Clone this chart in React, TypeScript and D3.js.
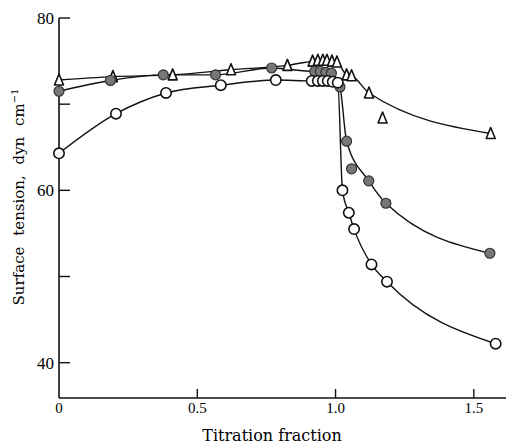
import React, { useEffect, useRef } from 'react';
import * as d3 from 'd3';

// open circles
const openFrac = [0, 0.206, 0.387, 0.585, 0.784, 0.914, 0.936, 0.954, 0.972, 0.99, 1.008, 1.025, 1.048, 1.067, 1.13, 1.186, 1.579];
const openTension = [64.3, 68.9, 71.3, 72.2, 72.8, 72.7, 72.7, 72.7, 72.7, 72.6, 72.5, 60.0, 57.4, 55.5, 51.4, 49.4, 42.2];

// filled (shaded) circles
const filledFrac = [0, 0.186, 0.377, 0.566, 0.769, 0.925, 0.945, 0.965, 0.985, 1.016, 1.04, 1.058, 1.12, 1.182, 1.558];
const filledTension = [71.5, 72.75, 73.4, 73.4, 74.2, 73.8, 73.8, 73.7, 73.6, 72.0, 65.7, 62.5, 61.1, 58.5, 52.7];
const filledOffCurve = [11];

// triangles
const triFrac = [0, 0.195, 0.411, 0.622, 0.826, 0.917, 0.936, 0.954, 0.969, 0.987, 1.005, 1.04, 1.058, 1.121, 1.17, 1.561];
const triTension = [72.8, 73.2, 73.4, 74.0, 74.5, 75.0, 75.1, 75.1, 75.1, 75.0, 74.9, 73.4, 73.3, 71.3, 68.4, 66.6];
const triOffCurve = [14];

const yTicks = [80, 70, 60, 50, 40];
const yTickLabels = ['80', '', '60', '', '40'];
const xTicks = [0.5, 1.0, 1.5];
const xTickLabels = ['0.5', '1.0', '1.5'];

const App = () => {
    const chartRef = useRef(null);

    useEffect(() => {
        const width = 506;
        const height = 448;
        const numFont = '"Liberation Serif", serif';
        const textFont = '"DejaVu Serif", serif';

        const xScale = d3.scaleLinear().domain([0, 1.62]).range([59, 507]);
        const yScale = d3.scaleLinear().domain([35.9, 80]).range([398, 18]);

        const svg = d3.select(chartRef.current)
            .append('svg')
            .attr('width', width)
            .attr('height', height)
            .style('position', 'absolute')
            .style('left', 0)
            .style('top', 0)
            .style('background', '#fff');

        // axes
        svg.append('line')
            .attr('x1', xScale(0)).attr('x2', xScale(0))
            .attr('y1', yScale(80)).attr('y2', yScale(35.9))
            .attr('stroke', '#111').attr('stroke-width', 1.6);
        svg.append('line')
            .attr('x1', xScale(0)).attr('x2', xScale(1.62))
            .attr('y1', yScale(35.9)).attr('y2', yScale(35.9))
            .attr('stroke', '#111').attr('stroke-width', 1.6);

        yTicks.forEach((t, i) => {
            svg.append('line')
                .attr('x1', xScale(0)).attr('x2', xScale(0) + 11)
                .attr('y1', yScale(t)).attr('y2', yScale(t))
                .attr('stroke', '#111').attr('stroke-width', 1.4);
            if (yTickLabels[i]) {
                svg.append('text')
                    .attr('x', xScale(0) - 5)
                    .attr('y', yScale(t) + 6)
                    .attr('text-anchor', 'end')
                    .attr('font-family', numFont)
                    .attr('font-size', 17)
                    .text(yTickLabels[i]);
            }
        });

        xTicks.forEach((t, i) => {
            svg.append('line')
                .attr('x1', xScale(t)).attr('x2', xScale(t))
                .attr('y1', yScale(35.9)).attr('y2', yScale(35.9) - 9)
                .attr('stroke', '#111').attr('stroke-width', 1.4);
            svg.append('text')
                .attr('x', xScale(t))
                .attr('y', 413)
                .attr('text-anchor', 'middle')
                .attr('font-family', numFont)
                .attr('font-size', 15)
                .text(xTickLabels[i]);
        });
        svg.append('text')
            .attr('x', xScale(0))
            .attr('y', 413)
            .attr('text-anchor', 'middle')
            .attr('font-family', numFont)
            .attr('font-size', 15)
            .text('0');

        svg.append('text')
            .attr('x', 272)
            .attr('y', 441)
            .attr('text-anchor', 'middle')
            .attr('font-family', textFont)
            .attr('font-size', 16)
            .text('Titration fraction');

        const yLabel = svg.append('text')
            .attr('transform', 'translate(24,197) rotate(-90)')
            .attr('text-anchor', 'middle')
            .attr('font-family', textFont)
            .attr('font-size', 15)
            .attr('word-spacing', 6);
        yLabel.append('tspan').text('Surface tension, dyn cm');
        yLabel.append('tspan').attr('dy', -6).attr('font-size', 10).text('\u22121');

        // curves
        const line = d3.line<[number, number]>()
            .x((d) => xScale(d[0]))
            .y((d) => yScale(d[1]))
            .curve(d3.curveMonotoneX);

        const pairs = (xs: number[], ys: number[]) => xs.map((x, i) => [x, ys[i]] as [number, number]);
        const onCurve = (xs: number[], ys: number[], off: number[]) =>
            pairs(xs, ys).filter((_, i) => !off.includes(i));

        [
            onCurve(triFrac, triTension, triOffCurve),
            onCurve(filledFrac, filledTension, filledOffCurve),
            pairs(openFrac, openTension),
        ].forEach((pts) => {
            svg.append('path')
                .attr('d', line(pts))
                .attr('fill', 'none')
                .attr('stroke', '#111')
                .attr('stroke-width', 1.4);
        });

        // markers
        svg.selectAll('.tri')
            .data(pairs(triFrac, triTension))
            .enter()
            .append('path')
            .attr('class', 'tri')
            .attr('transform', (d) => `translate(${xScale(d[0])},${yScale(d[1])})`)
            .attr('d', 'M0,-6 L4.5,5 L-4.5,5 Z')
            .attr('fill', '#fff')
            .attr('stroke', '#111')
            .attr('stroke-width', 1.6)
            .attr('stroke-linejoin', 'round');

        svg.selectAll('.filled')
            .data(pairs(filledFrac, filledTension))
            .enter()
            .append('circle')
            .attr('class', 'filled')
            .attr('cx', (d) => xScale(d[0]))
            .attr('cy', (d) => yScale(d[1]))
            .attr('r', 5)
            .attr('fill', '#777')
            .attr('stroke', '#333')
            .attr('stroke-width', 1.2);

        svg.selectAll('.open')
            .data(pairs(openFrac, openTension))
            .enter()
            .append('circle')
            .attr('class', 'open')
            .attr('cx', (d) => xScale(d[0]))
            .attr('cy', (d) => yScale(d[1]))
            .attr('r', 5.2)
            .attr('fill', '#fff')
            .attr('stroke', '#111')
            .attr('stroke-width', 1.6);

        return () => {
            svg.remove();
        };
    }, []);

    return <div ref={chartRef}></div>;
};

export default App;
